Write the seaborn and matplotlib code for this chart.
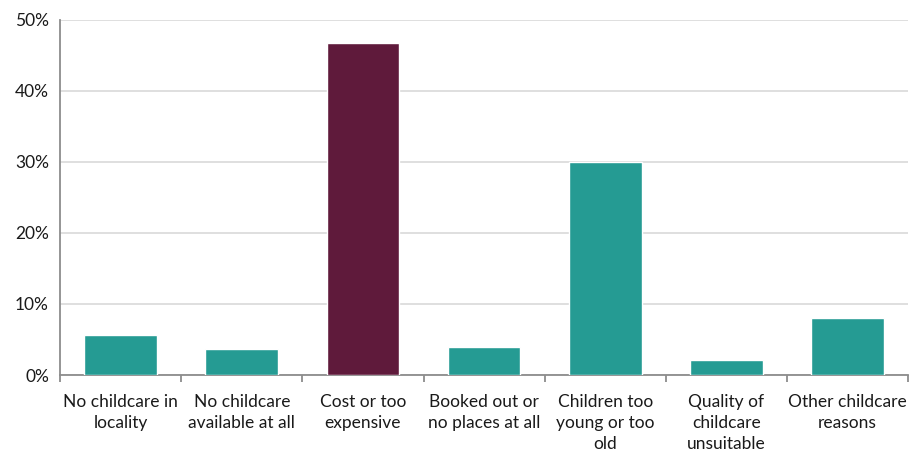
import matplotlib
matplotlib.use("Agg")
import matplotlib.pyplot as plt
import seaborn as sns
import pandas as pd
import numpy as np
from matplotlib.ticker import PercentFormatter, FixedLocator

categories = [
    "No childcare in\nlocality",
    "No childcare\navailable at all",
    "Cost or too\nexpensive",
    "Booked out or\nno places at all",
    "Children too\nyoung or too\nold",
    "Quality of\nchildcare\nunsuitable",
    "Other childcare\nreasons",
]
values = [5.6, 3.7, 46.7, 3.9, 30.0, 2.1, 8.0]
highlight = [False, False, True, False, False, False, False]

teal = "#259B93"
maroon = "#5F1A3B"

sns.set_theme(style="white")
plt.rcParams['font.family'] = ['Lato', 'DejaVu Sans']

df = pd.DataFrame({"category": categories, "value": values})
palette = [maroon if h else teal for h in highlight]

fig = plt.figure(figsize=(9.10, 4.54), dpi=100)
ax = fig.add_axes([0.066, 0.174, 0.932, 0.782])

sns.barplot(data=df, x="category", y="value", hue="category", palette=palette,
            legend=False, width=0.6, ax=ax, saturation=1, zorder=3)

ax.set_ylim(0, 50)
ax.set_xlim(-0.5, len(categories) - 0.5)
ax.set_yticks([0, 10, 20, 30, 40, 50])
ax.yaxis.set_major_formatter(PercentFormatter(decimals=0))
ax.grid(axis="y", color="#d9d9d9", linewidth=1.2, zorder=0)
ax.set_axisbelow(True)
ax.set_xlabel("")
ax.set_ylabel("")

for s in ["top", "right"]:
    ax.spines[s].set_visible(False)
for s in ["left", "bottom"]:
    ax.spines[s].set_color("#8c8c8c")
    ax.spines[s].set_linewidth(1.3)

ax.tick_params(axis="x", which="major", length=0, labelsize=12.5, labelcolor="#1a1a1a", pad=14)
ax.tick_params(axis="y", which="major", length=0, labelsize=12.5, labelcolor="#1a1a1a", pad=8)
for lbl in ax.get_xticklabels():
    lbl.set_linespacing(1.35)
ax.xaxis.set_minor_locator(FixedLocator(np.arange(-0.5, len(categories), 1.0)))
ax.tick_params(axis="x", which="minor", length=5, width=1.3, color="#8c8c8c", bottom=True)

fig.savefig("out.png", dpi=100)
